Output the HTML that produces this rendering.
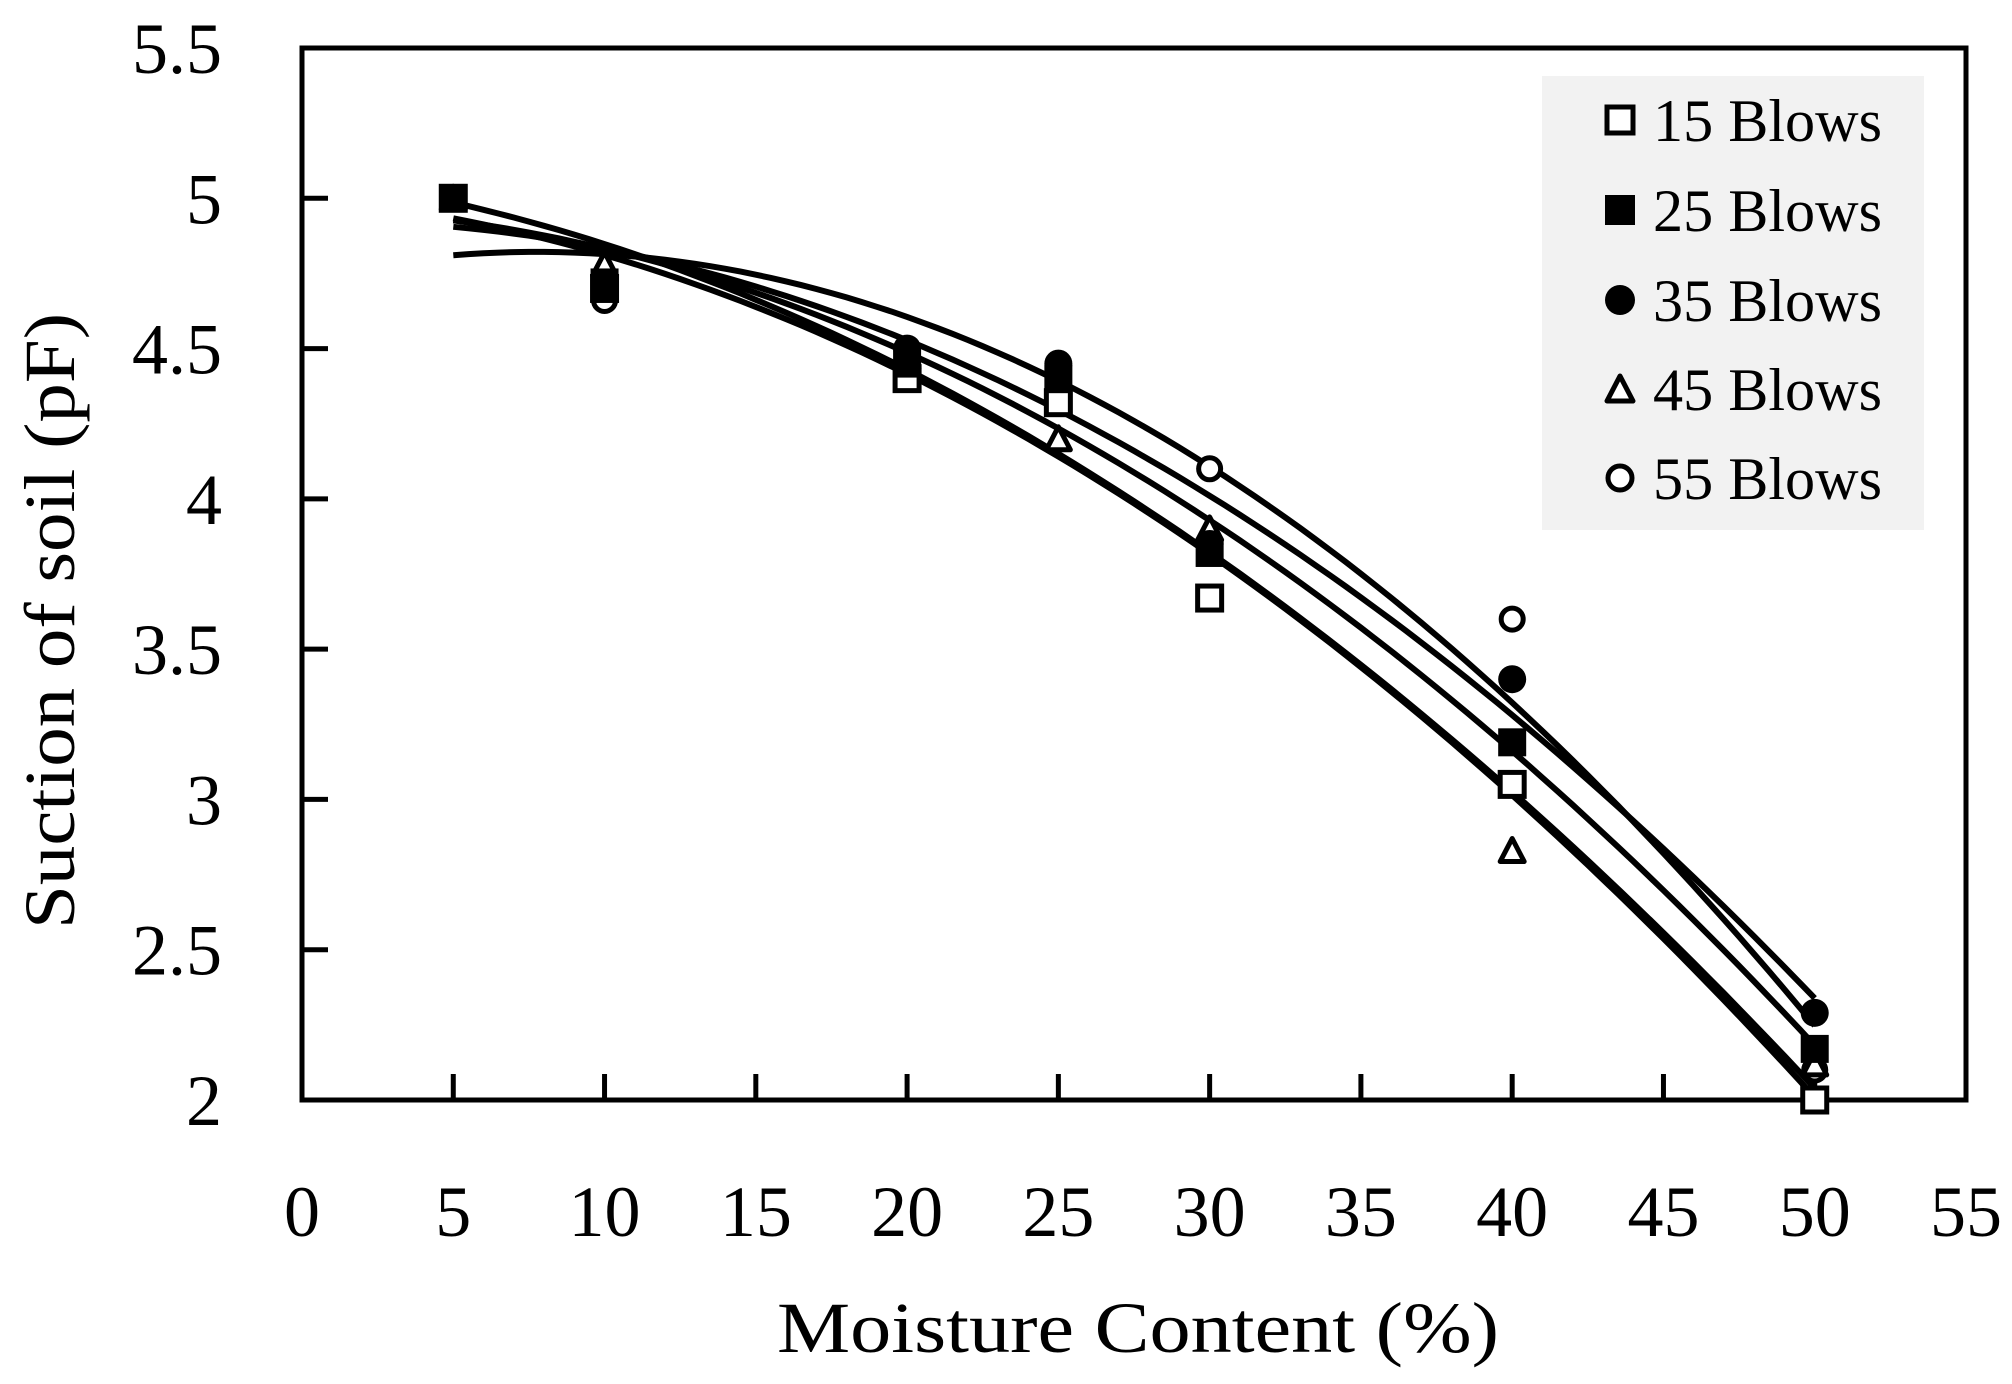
<!DOCTYPE html>
<html><head><meta charset="utf-8"><style>
html,body{margin:0;padding:0;background:#fff}
svg{display:block}
text{font-family:"Liberation Serif",serif;fill:#000}
</style></head><body>
<svg id="chart" width="2012" height="1384" viewBox="0 0 2012 1384" xmlns="http://www.w3.org/2000/svg">
<g id="plot"></g>
</svg>
<script>
const xTicks=[0,5,10,15,20,25,30,35,40,45,50,55];
const yTicks=[2,2.5,3,3.5,4,4.5,5,5.5];
const yTickLabels=["2","2.5","3","3.5","4","4.5","5","5.5"];
const xValues=[5,10,20,25,30,40,50];
const s15=[5.0,4.7,4.4,4.32,3.67,3.05,2.0];
const s25=[5.0,4.72,4.45,4.4,3.82,3.19,2.17];
const s35=[5.0,4.7,4.5,4.45,3.85,3.4,2.29];
const s45=[5.0,4.78,4.47,4.2,3.9,2.83,2.12];
const s55=[4.98,4.66,4.48,4.38,4.1,3.6,2.1];
const seriesNames=["15 Blows","25 Blows","35 Blows","45 Blows","55 Blows"];
const seriesMarkers=["square-open","square-filled","circle-filled","triangle-open","circle-open"];
const allSeries=[s15,s25,s35,s45,s55];

const L=302,R=1966,T=48,B=1100;
const xs=v=>L+(v-0)/55*(R-L);
const ys=v=>B-(v-2)/3.5*(B-T);
const NS="http://www.w3.org/2000/svg";
const g=document.getElementById('plot');
function mk(tag,attrs,parent){const e=document.createElementNS(NS,tag);for(const k in attrs)e.setAttribute(k,attrs[k]);(parent||g).appendChild(e);return e;}

let fr=mk('rect',{x:L,y:T,width:R-L,height:B-T,fill:'none',stroke:'#000','stroke-width':5});



xTicks.forEach((t,i)=>{
  if(i>0&&i<xTicks.length-1){let l=mk('line',{x1:xs(t),x2:xs(t),y1:B,y2:B-26,stroke:'#000','stroke-width':5});
  
  }
  let tx=mk('text',{x:xs(t),y:1236,'font-size':72,'text-anchor':'middle'});
  tx.textContent=t;
  
  
});
yTicks.forEach((t,i)=>{
  if(i>0&&i<yTicks.length-1){let l=mk('line',{x1:L,x2:L+26,y1:ys(t),y2:ys(t),stroke:'#000','stroke-width':5});
  
  }
  let tx=mk('text',{x:222,y:ys(t)+25,'font-size':72,'text-anchor':'end'});
  tx.textContent=yTickLabels[i];
  
  
});

function fit(xv,yv){
  let n=xv.length,S=[0,0,0,0,0],Ty=[0,0,0];
  for(let i=0;i<n;i++){for(let k=0;k<5;k++)S[k]+=Math.pow(xv[i],k);for(let k=0;k<3;k++)Ty[k]+=yv[i]*Math.pow(xv[i],k);}
  let A=[[S[0],S[1],S[2],Ty[0]],[S[1],S[2],S[3],Ty[1]],[S[2],S[3],S[4],Ty[2]]];
  for(let c=0;c<3;c++){for(let r=c+1;r<3;r++){let f=A[r][c]/A[c][c];for(let k=c;k<4;k++)A[r][k]-=f*A[c][k];}}
  let x=[0,0,0];
  for(let r=2;r>=0;r--){let s=A[r][3];for(let k=r+1;k<3;k++)s-=A[r][k]*x[k];x[r]=s/A[r][r];}
  return x;
}
allSeries.forEach((s,si)=>{
  const c=fit(xValues,s);let d='';
  for(let x=5;x<=50.001;x+=0.5){const y=c[0]+c[1]*x+c[2]*x*x;d+=(d?'L':'M')+xs(x).toFixed(1)+' '+ys(y).toFixed(1);}
  let p=mk('path',{d:d,fill:'none',stroke:'#000','stroke-width':6});
  
  
});

function marker(type,cx,cy,size,parent){
  let e,h=size/2;
  if(type==='square-open')e=mk('rect',{x:cx-h+2,y:cy-h+2,width:size-4,height:size-4,fill:'#fff',stroke:'#000','stroke-width':5},parent);
  else if(type==='square-filled')e=mk('rect',{x:cx-h,y:cy-h,width:size,height:size,fill:'#000'},parent);
  else if(type==='circle-filled')e=mk('circle',{cx:cx,cy:cy,r:h,fill:'#000'},parent);
  else if(type==='circle-open')e=mk('circle',{cx:cx,cy:cy,r:h-3,fill:'#fff',stroke:'#000','stroke-width':5},parent);
  else e=mk('path',{d:`M${cx} ${cy-h+2}L${cx+h-2} ${cy+h-3}L${cx-h+2} ${cy+h-3}Z`,fill:'#fff',stroke:'#000','stroke-width':5,'stroke-linejoin':'round'},parent);
  return e;
}
const drawOrder=[4,3,0,2,1];
drawOrder.forEach(si=>{
  allSeries[si].forEach((v,i)=>{
    if(si===4&&i===0)return;
    let m=marker(seriesMarkers[si],xs(xValues[i]),ys(v),28);
    
    
  });
});

let lg=mk('g',{});


mk('rect',{x:1542,y:76,width:382,height:454,fill:'#f2f2f2'},lg);
const rowY=[120,210,300,389,478];
seriesNames.forEach((nm,i)=>{
  let eg=mk('g',{},lg);
  
  
  marker(seriesMarkers[i],1620,rowY[i],30,eg);
  let t=mk('text',{x:1653,y:rowY[i]+21,'font-size':60,textLength:229,lengthAdjust:'spacingAndGlyphs'},eg);
  t.textContent=nm;
});

let xt=mk('text',{x:1138,y:1352,'font-size':72,'text-anchor':'middle',textLength:722,lengthAdjust:'spacingAndGlyphs'});
xt.textContent='Moisture Content (%)';


let yt=mk('text',{x:0,y:0,'font-size':72,'text-anchor':'middle',textLength:616,lengthAdjust:'spacingAndGlyphs',transform:'translate(74,621) rotate(-90)'});
yt.textContent='Suction of soil  (pF)';


</script>
</body></html>
